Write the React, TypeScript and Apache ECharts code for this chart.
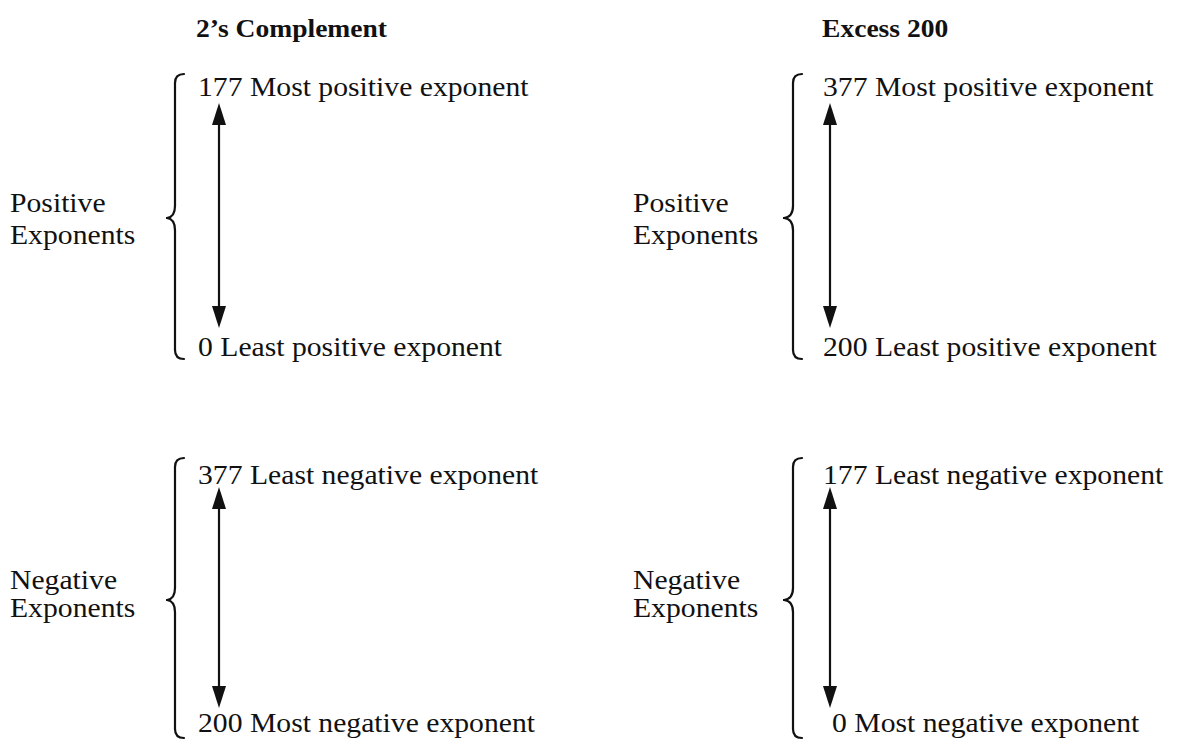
import React, { useEffect, useRef } from "react";
import * as echarts from "echarts";

// ---- data ----
const panelTitles = ["2’s Complement", "Excess 200"];
const groupLabels = ["Positive\nExponents", "Negative\nExponents"];
// codes per panel: [upper group, lower group]
const topCodes = [
  [177, 377],
  [377, 177],
];
const bottomCodes = [
  [0, 200],
  [200, 0],
];
const topDescs = ["Most positive exponent", "Least negative exponent"];
const bottomDescs = ["Least positive exponent", "Most negative exponent"];

// ---- layout ----
const FONT = "Liberation Serif, Times New Roman, serif";
const FS = 28;
const SX = 1.06;
const INK = "#111";
const LW = 2.2;

const panels = [
  { titleX: 196, braceX: 175, textX: 198, arrowX: 219, labelX: 10, tipDX: 8 },
  { titleX: 822, braceX: 793, textX: 823, arrowX: 830, labelX: 633, tipDX: 9 },
];
const groups = [
  { top: 74, bottom: 359, tip: 218, aTop: 103, aBot: 328, tText: 86, bText: 346, l1: 202, l2: 234 },
  { top: 458, bottom: 738, tip: 600, aTop: 487, aBot: 708, tText: 474, bText: 722, l1: 579, l2: 607 },
];

function txt(text: string, x: number, y: number, bold = false, size = FS): any {
  return {
    type: "text",
    x,
    y,
    scaleX: SX,
    style: {
      text,
      x: 0,
      y: 0,
      fill: INK,
      font: `${bold ? "bold " : ""}${size}px ${FONT}`,
      align: "left",
      verticalAlign: "middle",
    },
  };
}

function brace(bx: number, top: number, bottom: number, tip: number, dx: number): any[] {
  const s = { stroke: INK, lineWidth: LW, fill: null, lineCap: "round" };
  const h = 9;
  return [
    { type: "bezierCurve", shape: { x1: bx + h, y1: top, x2: bx, y2: top + h, cpx1: bx, cpy1: top }, style: s },
    { type: "line", shape: { x1: bx, y1: top + h, x2: bx, y2: tip - 12 }, style: s },
    { type: "bezierCurve", shape: { x1: bx, y1: tip - 12, x2: bx - dx, y2: tip, cpx1: bx, cpy1: tip - 1 }, style: s },
    { type: "bezierCurve", shape: { x1: bx - dx, y1: tip, x2: bx, y2: tip + 12, cpx1: bx, cpy1: tip + 1 }, style: s },
    { type: "line", shape: { x1: bx, y1: tip + 12, x2: bx, y2: bottom - h }, style: s },
    { type: "bezierCurve", shape: { x1: bx, y1: bottom - h, x2: bx + h, y2: bottom, cpx1: bx, cpy1: bottom }, style: s },
  ];
}

function arrow(ax: number, t: number, b: number): any[] {
  const hw = 7;
  const hh = 22;
  return [
    { type: "line", shape: { x1: ax, y1: t + hh - 2, x2: ax, y2: b - hh + 2 }, style: { stroke: INK, lineWidth: LW } },
    { type: "polygon", shape: { points: [[ax, t], [ax - hw, t + hh], [ax + hw, t + hh]] }, style: { fill: INK } },
    { type: "polygon", shape: { points: [[ax, b], [ax - hw, b - hh], [ax + hw, b - hh]] }, style: { fill: INK } },
  ];
}

export default function App() {
  const ref = useRef<HTMLDivElement>(null);
  useEffect(() => {
    if (!ref.current) return;
    const chart = echarts.init(ref.current, undefined, { renderer: "svg" });
    const elements: any[] = [];
    panels.forEach((p, pi) => {
      elements.push(txt(panelTitles[pi], p.titleX, 28, true, 26));
      groups.forEach((g, gi) => {
        const [l1, l2] = groupLabels[gi].split("\n");
        elements.push(txt(l1, p.labelX, g.l1));
        elements.push(txt(l2, p.labelX, g.l2));
        elements.push(...brace(p.braceX, g.top, g.bottom, g.tip, p.tipDX));
        elements.push(...arrow(p.arrowX, g.aTop, g.aBot));
        elements.push(txt(`${topCodes[pi][gi]} ${topDescs[gi]}`, p.textX, g.tText));
        const bx = pi === 1 && gi === 1 ? p.textX + 9 : p.textX;
        elements.push(txt(`${bottomCodes[pi][gi]} ${bottomDescs[gi]}`, bx, g.bText));
      });
    });
    chart.setOption({
      animation: false,
      backgroundColor: "#ffffff",
      graphic: { elements },
    });
    return () => chart.dispose();
  }, []);
  return (
    <div
      ref={ref}
      style={{ position: "fixed", left: 0, top: 0, width: 1181, height: 741, background: "#fff" }}
    />
  );
}
